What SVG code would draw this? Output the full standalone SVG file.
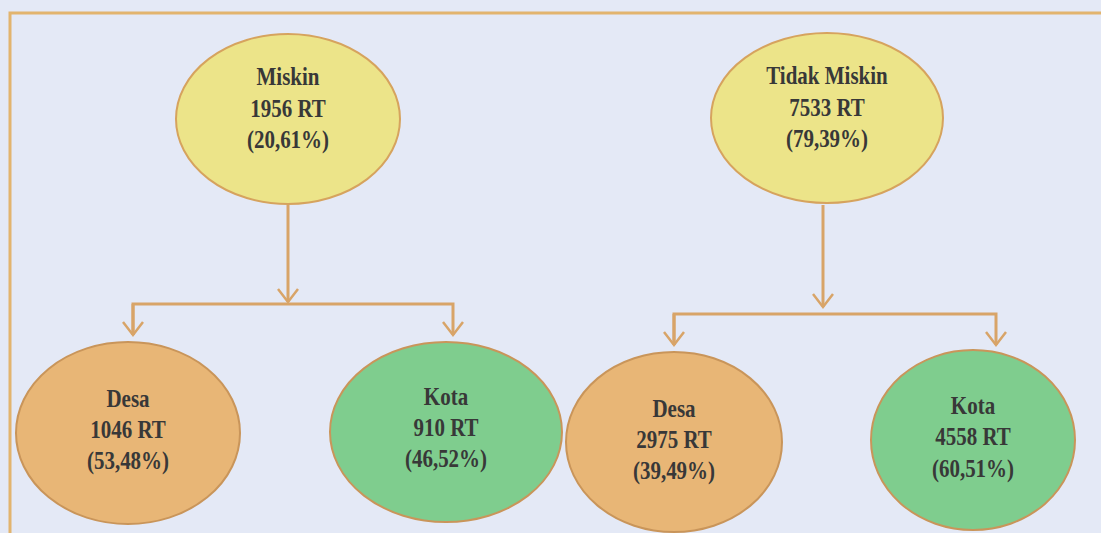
<svg xmlns="http://www.w3.org/2000/svg" width="1101" height="533" viewBox="0 0 1101 533">
<style>
.bg{fill:#e4e9f6}
.frame{fill:none;stroke:#e2b46e;stroke-width:3}
.yel{fill:#ece489;stroke:#d6a35e;stroke-width:2}
.ora{fill:#e8b676;stroke:#c9955a;stroke-width:2}
.grn{fill:#7fcd8e;stroke:#c9955a;stroke-width:2}
.lbl{font-family:"Liberation Serif","Times New Roman",serif;font-weight:bold;font-size:25px;fill:#383838;text-anchor:middle}
.conn{fill:none;stroke:#d8a468;stroke-width:3}
</style>
<defs>
<marker id="arr" markerWidth="24" markerHeight="24" refX="17" refY="12" orient="auto" markerUnits="userSpaceOnUse" viewBox="0 0 24 24">
<path d="M4,2 L17,12 L4,22" fill="none" stroke="#d8a468" stroke-width="2.5"/>
</marker>
</defs>
<rect class="bg" x="0" y="0" width="1101" height="533"/>
<path class="frame" d="M10,533 V13 H1101"/>
<g id="connectors">
<path class="conn" d="M288,205 V302" marker-end="url(#arr)"/>
<path class="conn" d="M133,335 V304 H453 V335" marker-end="url(#arr)"/>
<path class="conn" d="M133,304 V335" marker-end="url(#arr)"/>
<path class="conn" d="M823,205 V307" marker-end="url(#arr)"/>
<path class="conn" d="M674,345 V314 H996 V345" marker-end="url(#arr)"/>
<path class="conn" d="M674,314 V345" marker-end="url(#arr)"/>
</g>
<g id="miskin">
<ellipse class="yel" cx="288" cy="119" rx="112" ry="85"/>
<g transform="translate(288 0) scale(0.84 1)">
<text class="lbl" x="0" y="85">Miskin</text>
<text class="lbl" x="0" y="117">1956 RT</text>
<text class="lbl" x="0" y="148">(20,61%)</text>
</g>
</g>
<g id="tidak-miskin">
<ellipse class="yel" cx="827" cy="118" rx="116" ry="85"/>
<g transform="translate(827 0) scale(0.84 1)">
<text class="lbl" x="0" y="84">Tidak Miskin</text>
<text class="lbl" x="0" y="116">7533 RT</text>
<text class="lbl" x="0" y="147">(79,39%)</text>
</g>
</g>
<g id="desa-miskin">
<ellipse class="ora" cx="128" cy="433" rx="112" ry="91"/>
<g transform="translate(128 0) scale(0.84 1)">
<text class="lbl" x="0" y="407">Desa</text>
<text class="lbl" x="0" y="438">1046 RT</text>
<text class="lbl" x="0" y="469">(53,48%)</text>
</g>
</g>
<g id="kota-miskin">
<ellipse class="grn" cx="446" cy="432" rx="116" ry="90"/>
<g transform="translate(446 0) scale(0.84 1)">
<text class="lbl" x="0" y="405">Kota</text>
<text class="lbl" x="0" y="436">910 RT</text>
<text class="lbl" x="0" y="467">(46,52%)</text>
</g>
</g>
<g id="desa-tidak-miskin">
<ellipse class="ora" cx="674" cy="442" rx="108" ry="90"/>
<g transform="translate(674 0) scale(0.84 1)">
<text class="lbl" x="0" y="417">Desa</text>
<text class="lbl" x="0" y="448">2975 RT</text>
<text class="lbl" x="0" y="479">(39,49%)</text>
</g>
</g>
<g id="kota-tidak-miskin">
<ellipse class="grn" cx="973" cy="440" rx="102" ry="90"/>
<g transform="translate(973 0) scale(0.84 1)">
<text class="lbl" x="0" y="414">Kota</text>
<text class="lbl" x="0" y="445">4558 RT</text>
<text class="lbl" x="0" y="477">(60,51%)</text>
</g>
</g>
</svg>
